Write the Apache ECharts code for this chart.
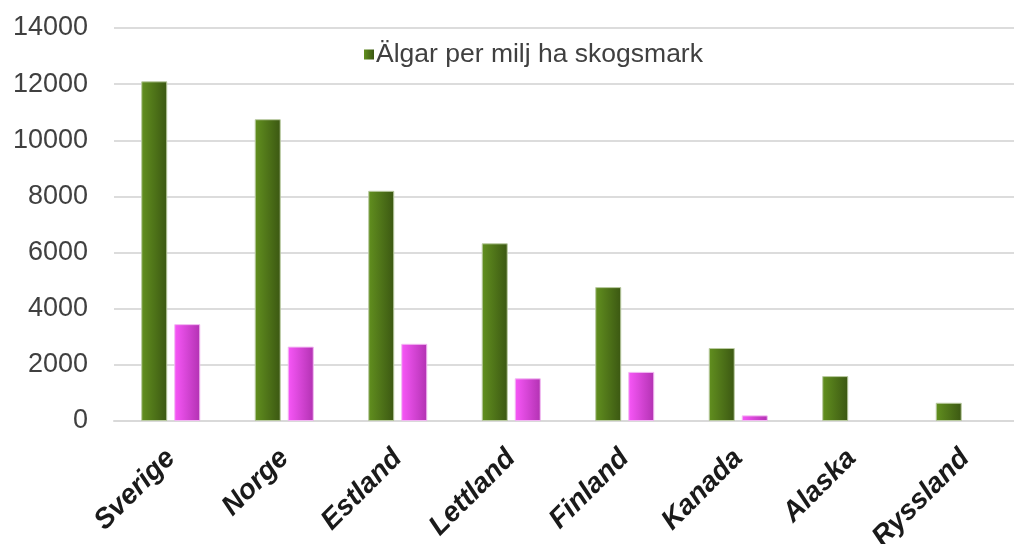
<!DOCTYPE html>
<html>
<head>
<meta charset="utf-8">
<script src="https://cdn.jsdelivr.net/npm/echarts@6/dist/echarts.min.js"></script>
<style>
  html, body { margin: 0; padding: 0; background: #fff; }
  #chart { width: 1014px; height: 544px; }
</style>
</head>
<body>
<div id="chart"></div>
<script>
var countries = ['Sverige', 'Norge', 'Estland', 'Lettland', 'Finland', 'Kanada', 'Alaska', 'Ryssland'];
var algarSkog = [12100, 10750, 8200, 6330, 4770, 2600, 1600, 650];
// Alaska och Ryssland saknar rosa stapel
var serie2 = [3450, 2650, 2750, 1520, 1750, 200, '-', '-'];
var yTicks = [0, 2000, 4000, 6000, 8000, 10000, 12000, 14000];

var myChart = echarts.init(document.getElementById('chart'));

function grad(c1, c2) {
    return new echarts.graphic.LinearGradient(0, 0, 1, 0, [
        { offset: 0, color: c1 },
        { offset: 1, color: c2 }
    ]);
}

var option = {
    animation: false,
    backgroundColor: '#ffffff',
    legend: {
        data: ['Älgar per milj ha skogsmark'],
        left: 359,
        top: 36,
        itemWidth: 10,
        itemHeight: 10,
        icon: 'rect',
        itemStyle: { borderWidth: 0 },
        textStyle: {
            fontFamily: 'Liberation Sans',
            fontSize: 26.5,
            color: '#404040',
            padding: [0, 0, 0, -3]
        }
    },
    grid: {
        left: 114,
        width: 908,
        top: 28,
        bottom: 123,
        outerBoundsMode: 'none',
        containLabel: false
    },
    xAxis: {
        type: 'category',
        data: countries,
        axisLine: { lineStyle: { color: '#d9d9d9', width: 2 } },
        axisTick: { show: false },
        axisLabel: {
            rotate: 45,
            interval: 0,
            margin: 33,
            fontFamily: 'Liberation Sans',
            fontSize: 28,
            fontWeight: 'bold',
            fontStyle: 'italic',
            color: '#1a1a1a'
        }
    },
    yAxis: {
        type: 'value',
        min: yTicks[0],
        max: yTicks[yTicks.length - 1],
        interval: 2000,
        axisLine: { show: false },
        axisTick: { show: false },
        splitLine: { lineStyle: { color: '#dcdcdc', width: 2 } },
        axisLabel: {
            margin: 26,
            fontFamily: 'Liberation Sans',
            fontSize: 27,
            color: '#404040',
            formatter: function (v) { return String(v); }
        }
    },
    series: [
        {
            name: 'Älgar per milj ha skogsmark',
            type: 'bar',
            data: algarSkog,
            barWidth: 26,
            barGap: '27%',
            itemStyle: {
                color: grad('#62901f', '#3b5712'),
                borderColor: '#b9caa0',
                borderWidth: 1
            }
        },
        {
            name: 'Serie 2',
            type: 'bar',
            data: serie2,
            barWidth: 26,
            itemStyle: {
                color: grad('#f857f8', '#b232b2'),
                borderColor: '#f2b8f2',
                borderWidth: 1
            }
        }
    ]
};
myChart.setOption(option);
</script>
</body>
</html>
